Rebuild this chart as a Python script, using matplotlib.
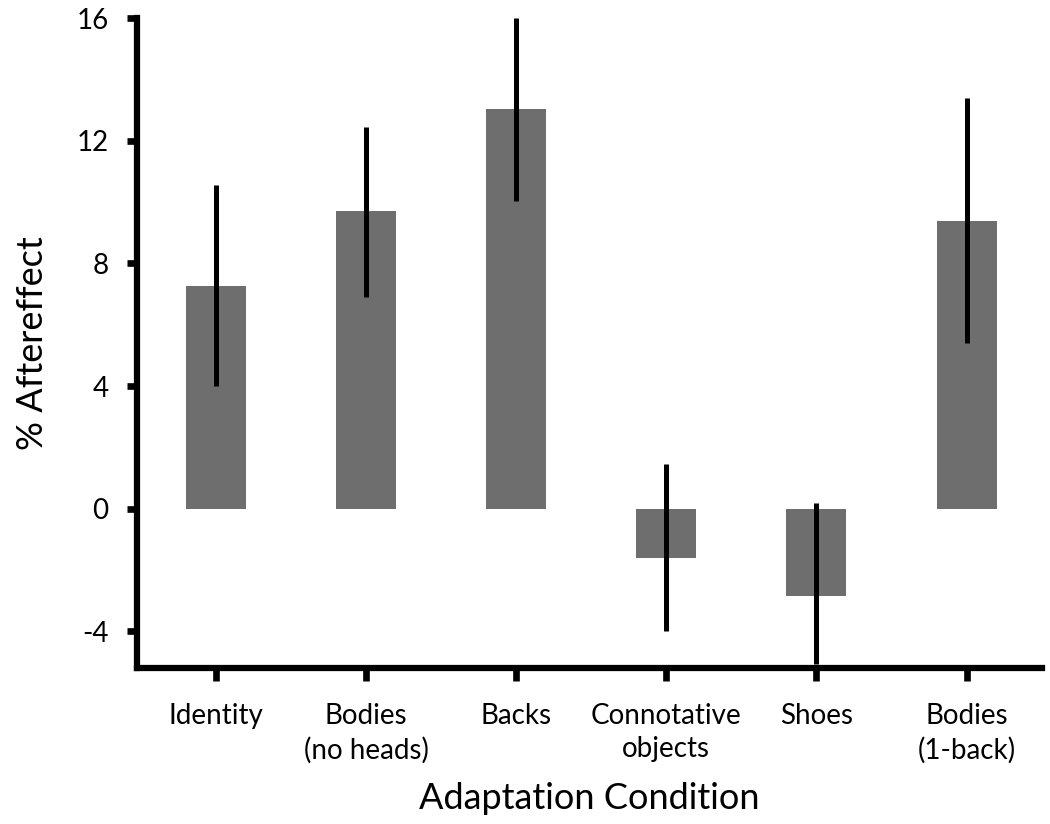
import matplotlib
matplotlib.use("Agg")
from matplotlib import pyplot as plt

conditions = ["Identity", "Bodies\n(no heads)", "Backs", "Connotative\nobjects", "Shoes", "Bodies\n(1-back)"]
effect = [7.25, 9.7, 13.05, -1.6, -2.85, 9.4]
err_low = [4.0, 6.9, 10.05, -4.0, -5.05, 5.4]
err_high = [10.55, 12.45, 16.0, 1.45, 0.2, 13.4]

plt.rcParams['font.family'] = ['Lato', 'DejaVu Sans']
plt.rcParams['axes.unicode_minus'] = False

fig = plt.figure(figsize=(10.5, 8.24), dpi=100)
ax = fig.add_axes([0.130, 0.189, 0.862, 0.789])

xs = list(range(len(conditions)))
ax.bar(xs, effect, width=0.4, color='#6e6e6e', zorder=1)
ax.vlines(xs, err_low, err_high, color='black', linewidth=3.6, zorder=2)

ax.set_xlim(-0.53, 5.5)
ax.set_ylim(-5.2, 16)
ax.set_yticks([-4, 0, 4, 8, 12, 16])
ax.set_xticks(xs)
ax.set_xticklabels(conditions, fontsize=20, linespacing=1.35)
ax.tick_params(axis='y', labelsize=20, width=4.8, length=7, pad=13)
ax.tick_params(axis='x', width=4.8, length=9, pad=16)

for s in ['top', 'right']:
    ax.spines[s].set_visible(False)
for s in ['left', 'bottom']:
    ax.spines[s].set_linewidth(4.5)

ax.set_ylabel('% Aftereffect', fontsize=26, labelpad=20)
ax.set_xlabel('Adaptation Condition', fontsize=26, labelpad=13)

fig.savefig('out.png', dpi=100)
